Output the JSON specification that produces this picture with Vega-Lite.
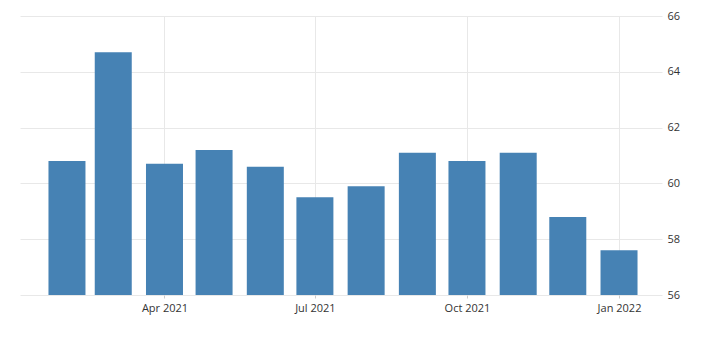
{
  "$schema": "https://vega.github.io/schema/vega-lite/v6.json",
  "autosize": "none",
  "width": 642,
  "height": 279,
  "padding": {"left": 20, "top": 16, "right": 66, "bottom": 54},
  "background": "white",
  "config": {"view": {"stroke": null}},
  "data": {
    "values": [
      {"date": "2021-02-01", "value": 60.8},
      {"date": "2021-03-01", "value": 64.7},
      {"date": "2021-04-01", "value": 60.7},
      {"date": "2021-05-01", "value": 61.2},
      {"date": "2021-06-01", "value": 60.6},
      {"date": "2021-07-01", "value": 59.5},
      {"date": "2021-08-01", "value": 59.9},
      {"date": "2021-09-01", "value": 61.1},
      {"date": "2021-10-01", "value": 60.8},
      {"date": "2021-11-01", "value": 61.1},
      {"date": "2021-12-01", "value": 58.8},
      {"date": "2022-01-01", "value": 57.6}
    ]
  },
  "mark": {"type": "bar", "size": 37, "color": "#4682B4", "clip": true},
  "encoding": {
    "x": {
      "field": "date",
      "type": "temporal",
      "scale": {
        "type": "utc",
        "nice": false,
        "padding": 0,
        "domain": [
          {"year": 2021, "month": 1, "date": 3, "hours": 14, "utc": true},
          {"year": 2022, "month": 1, "date": 27, "utc": true}
        ]
      },
      "axis": {
        "title": null,
        "labelExpr": "utcFormat(datum.value, '%b %Y')",
        "values": [
          {"year": 2021, "month": 4, "date": 1, "utc": true},
          {"year": 2021, "month": 7, "date": 1, "utc": true},
          {"year": 2021, "month": 10, "date": 1, "utc": true},
          {"year": 2022, "month": 1, "date": 1, "utc": true}
        ],
        "domain": false,
        "ticks": true,
        "tickSize": 3,
        "tickColor": "#cccccc",
        "grid": true,
        "gridColor": "#e8e8e8",
        "labelPadding": 4,
        "labelFont": "Open Sans",
        "labelFontSize": 11,
        "labelColor": "#333333"
      }
    },
    "y": {
      "field": "value",
      "type": "quantitative",
      "scale": {"domain": [56, 66], "zero": false, "nice": false},
      "axis": {
        "title": null,
        "orient": "right",
        "values": [56, 58, 60, 62, 64, 66],
        "domain": false,
        "ticks": false,
        "grid": true,
        "gridColor": "#e8e8e8",
        "labelPadding": 5,
        "labelFont": "Open Sans",
        "labelFontSize": 11,
        "labelColor": "#333333"
      }
    }
  }
}
